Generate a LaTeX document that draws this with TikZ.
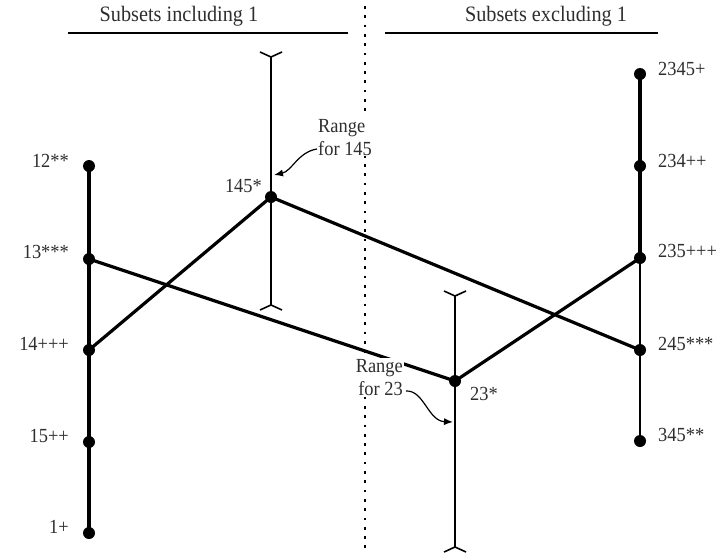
\documentclass[tikz,border=0pt]{standalone}
\usepackage{fontspec}
\setmainfont{Liberation Serif}
\newfontfamily\figfont[FakeStretch=0.92]{Liberation Serif}
\usetikzlibrary{arrows.meta,calc}
\begin{document}
\begin{tikzpicture}[x=1pt,y=-1pt,
  dot/.style={circle,fill=black,inner sep=0pt,minimum size=12pt},
  lbl/.style={inner sep=0pt,font=\figfont\fontsize{20}{22}\selectfont,text=black!82},
  ttl/.style={inner sep=0pt,font=\figfont\fontsize{22}{24}\selectfont,text=black!82},
  thickln/.style={line width=3.4pt},
  rangeln/.style={line width=1.6pt},
  link/.style={line width=3.2pt},
  note/.style={-{Latex[length=9pt,width=7pt]},line width=1.2pt}]
\useasboundingbox (0,0) rectangle (722,554);
% titles
\node[ttl,anchor=base] (tin) at (179,21) {Subsets including 1};
\node[ttl,anchor=base] (tex) at (546,21) {Subsets excluding 1};
\draw[line width=2.2pt] (68,33) coordinate (l1) -- (348,33) coordinate (l2);
\draw[line width=2.2pt] (385,33) coordinate (r1) -- (658,33) coordinate (r2);
% dotted separator
\draw[line width=2.7pt,dash pattern=on 2.7pt off 6.6pt] (365,6) coordinate (s1) -- (365,550) coordinate (s2);
% range bars
\coordinate (t145) at (271,57);
\coordinate (b145) at (271,305);
\draw[rangeln] (t145) -- (b145);
\draw[rangeln] ($(t145)+(-11,-5)$) -- (t145) -- ($(t145)+(11,-5)$);
\draw[rangeln] ($(b145)+(-11,5)$) -- (b145) -- ($(b145)+(11,5)$);
\coordinate (t23) at (455,296);
\coordinate (b23) at (455,547);
\draw[rangeln] (t23) -- (b23);
\draw[rangeln] ($(t23)+(-11,-5)$) -- (t23) -- ($(t23)+(11,-5)$);
\draw[rangeln] ($(b23)+(-11,5)$) -- (b23) -- ($(b23)+(11,5)$);
% left column
\node[dot] (n12) at (89,166) {};
\node[dot] (n13) at (89,259) {};
\node[dot] (n14) at (89,350) {};
\node[dot] (n15) at (89,442) {};
\node[dot] (n1) at (89,533) {};
\draw[thickln] (n12.center) -- (n1.center);
% right column
\node[dot] (n2345) at (640,74) {};
\node[dot] (n234) at (640,166) {};
\node[dot] (n235) at (640,258) {};
\node[dot] (n245) at (640,350) {};
\node[dot] (n345) at (640,441) {};
\draw[thickln] (n2345.center) -- (n235.center);
\draw[line width=2.5pt] (n235.center) -- (n345.center);
% middle nodes
\node[dot] (n145) at (271,197) {};
\node[dot] (n23) at (455,381) {};
% links
\draw[link] (n14.center) -- (n145.center) -- (n245.center);
\draw[link] (n13.center) -- (n23.center) -- (n235.center);
% labels
\node[lbl,anchor=base east] (L12) at (69,167) {12**};
\node[lbl,anchor=base east] (L13) at (69,258) {13***};
\node[lbl,anchor=base east] (L14) at (69,350) {14+++};
\node[lbl,anchor=base east] (L15) at (69,442) {15++};
\node[lbl,anchor=base east] (L1) at (69,533) {1+};
\node[lbl,anchor=base west] (L2345) at (658,75) {2345+};
\node[lbl,anchor=base west] (L234) at (658,167) {234++};
\node[lbl,anchor=base west] (L235) at (658,257) {235+++};
\node[lbl,anchor=base west] (L245) at (658,350) {245***};
\node[lbl,anchor=base west] (L345) at (658,441) {345**};
\node[lbl,anchor=base east] (L145) at (262,192) {145*};
\node[lbl,anchor=base west] (L23) at (470,400) {23*};
% range notes
\node[lbl,align=left,anchor=base west,fill=white,inner sep=1pt] (R145) at (317,155) {Range\\[1pt]for 145};
\node[lbl,align=right,anchor=base east,fill=white,inner sep=1pt] (R23) at (404,395) {Range\\[1pt]for 23};
\coordinate (a145) at (274,175);
\coordinate (a23) at (453,422);
\draw[note] (R145.west |- 0,149) .. controls (298,152) and (292,171) .. (a145);
\draw[note] (406,391) .. controls (424,390) and (428,421) .. (a23);
\end{tikzpicture}
\end{document}
